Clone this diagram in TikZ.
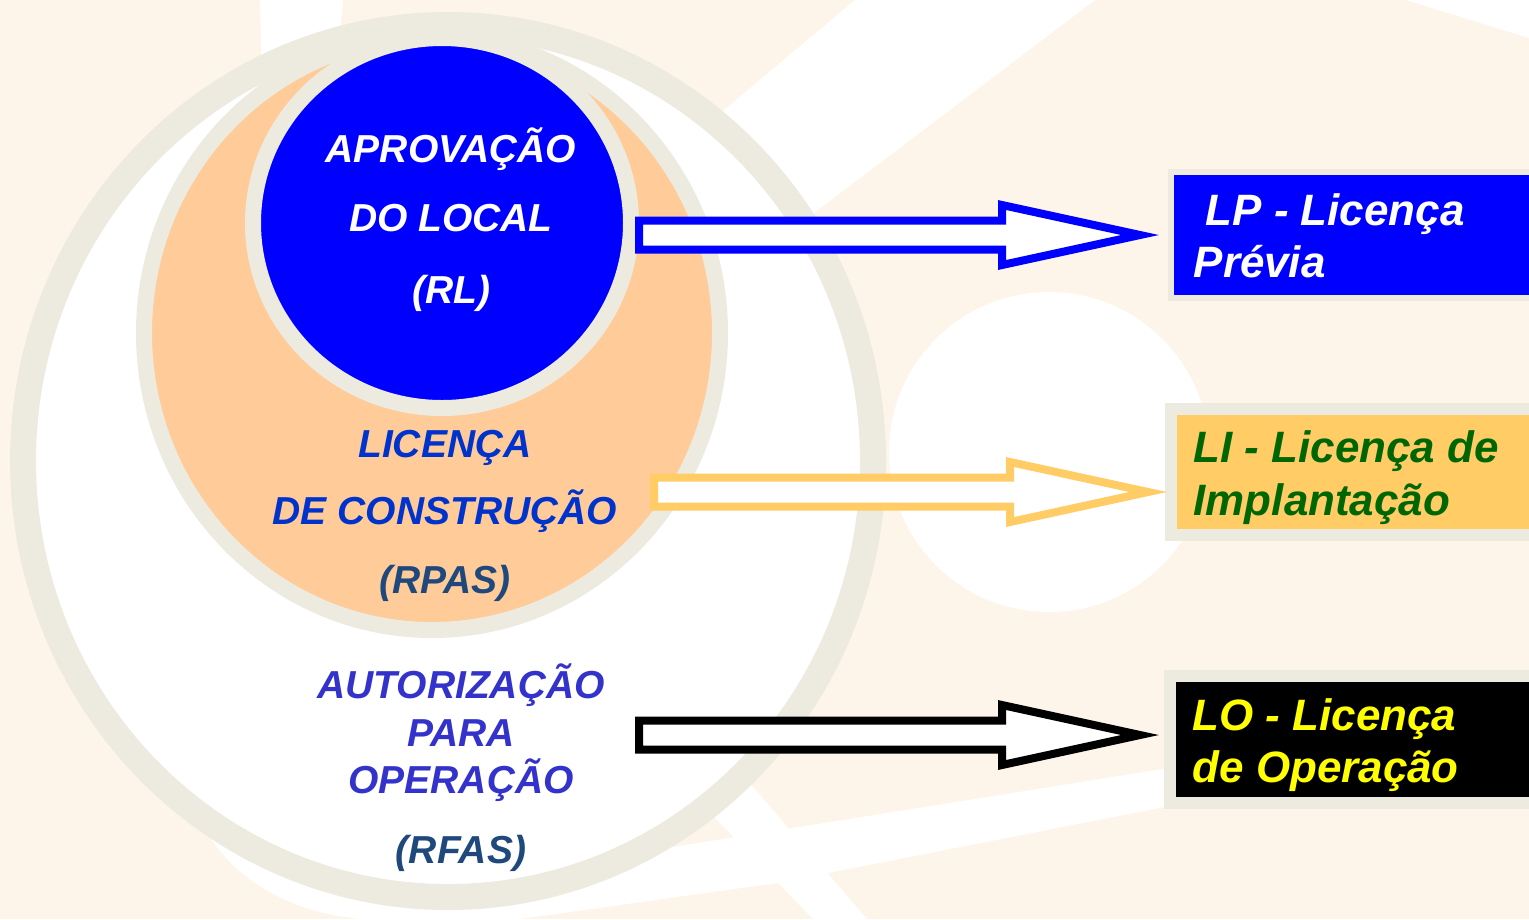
\documentclass[tikz,border=0pt]{standalone}
\usepackage{fontspec}
\setmainfont{Liberation Sans}
\usetikzlibrary{shapes.geometric,calc}
\definecolor{bgpeach}{RGB}{254,245,234}
\definecolor{ringgray}{RGB}{237,235,224}
\definecolor{peach}{RGB}{255,204,153}
\definecolor{rlblue}{RGB}{0,0,255}
\definecolor{liyellow}{RGB}{255,204,102}
\definecolor{ligreen}{RGB}{0,102,0}
\definecolor{loyellow}{RGB}{255,255,0}
\definecolor{lcblue}{RGB}{0,51,204}
\definecolor{aoblue}{RGB}{51,51,204}
\definecolor{codeblue}{RGB}{31,73,125}
\newcommand{\hollowarrow}[3]{%
\draw[draw=#1, fill=white, line width=0.8mm] let \p1=(#2), \p2=(#3) in
(\x1,\y1+1.45mm) -- (\x2-13.8mm,\y1+1.45mm) -- (\x2-13.8mm,\y1+3mm) -- (\x2,\y1)
-- (\x2-13.8mm,\y1-3mm) -- (\x2-13.8mm,\y1-1.45mm) -- (\x1,\y1-1.45mm) -- cycle;}

\begin{document}
\begin{tikzpicture}[x=0.1mm, y=-0.1mm,
ring/.style={ellipse, draw=ringgray, inner sep=0pt},
licbox/.style={rectangle, draw=ringgray, fill=#1, anchor=west, minimum width=45mm, inner sep=0pt},
ovaltext/.style={font=\fontsize{11.1pt}{13pt}\selectfont\bfseries\itshape, text=#1, anchor=base, inner sep=0pt},
boxtext/.style={font=\fontsize{12.5pt}{15pt}\selectfont\bfseries\itshape, text=#1, anchor=base west, inner sep=0pt}]

\useasboundingbox (0,0) rectangle (1529,919);
\clip (0,0) rectangle (1529,919);
\fill[bgpeach] (0,0) rectangle (1529,919);
\fill[white] (260,0) -- (343,0) -- (335,90) -- (262,90) -- cycle;
\fill[white] (855,0) -- (1095,0) -- (567,400) -- (379,400) -- cycle;
\fill[white] (1406,0) -- (1529,0) -- (1529,38) -- cycle;
\fill[white] (1049,452) circle [radius=160];
\fill[white] (200,800) -- (200,820) .. controls (230,880) and (290,912) .. (360,919)
  -- (520,919) -- (777,883) -- (1200,800) -- (1200,763) -- (1000,795) -- (673,847)
  -- (560,800) -- cycle;
\fill[white] (601,700) -- (678,700) -- (867,919) -- (813,919) -- cycle;

\node[ring, fill=white, line width=2.6mm, minimum width=85mm, minimum height=87.2mm] (ao) at (448,461) {};
\node[ring, fill=peach, line width=1.6mm, minimum width=57.6mm, minimum height=59.4mm] (lc) at (432,333) {};
\node[ring, fill=rlblue, line width=1.6mm, minimum width=37.8mm, minimum height=37mm] (rl) at (442,223) {};

\node[licbox=rlblue, line width=0.6mm, minimum height=12.6mm] (lp) at (1168,235) {};
\node[licbox=liyellow, line width=1.2mm, minimum height=12.6mm] (li) at (1165,472) {};
\node[licbox=black, line width=1.2mm, minimum height=12.7mm] (lo) at (1164,739) {};

\coordinate (rlout) at (rl.east |- lp.west);
\coordinate (lcout) at (654,492);
\coordinate (aoout) at (639,735);
\hollowarrow{rlblue}{rlout}{[xshift=-2.8mm]lp.west}
\hollowarrow{liyellow}{lcout}{[xshift=-1.7mm]li.west}
\hollowarrow{black}{aoout}{[xshift=-2.4mm]lo.west}

\node[ovaltext=white] (rl1) at (451,162) {APROVAÇÃO};
\node[ovaltext=white] (rl2) at (451,231) {DO LOCAL};
\node[ovaltext=white] (rl3) at (451,303) {(RL)};
\node[ovaltext=lcblue] (lc1) at (445,457) {LICENÇA};
\node[ovaltext=lcblue] (lc2) at (445,524) {DE CONSTRUÇÃO};
\node[ovaltext=codeblue] (lc3) at (445,593) {(RPAS)};
\node[ovaltext=aoblue] (ao1) at (461,698) {AUTORIZAÇÃO};
\node[ovaltext=aoblue] (ao2) at (461,746) {PARA};
\node[ovaltext=aoblue] (ao3) at (461,793) {OPERAÇÃO};
\node[ovaltext=codeblue] (ao4) at (461,863) {(RFAS)};

\node[boxtext=white] (lp1) at (1205,225) {LP - Licença};
\node[boxtext=white] (lp2) at (1193,277) {Prévia};
\node[boxtext=ligreen] (li1) at (1193,462) {LI - Licença de};
\node[boxtext=ligreen] (li2) at (1193,515) {Implantação};
\node[boxtext=loyellow] (lo1) at (1192,730) {LO - Licença};
\node[boxtext=loyellow] (lo2) at (1192,782) {de Operação};

\end{tikzpicture}
\end{document}
